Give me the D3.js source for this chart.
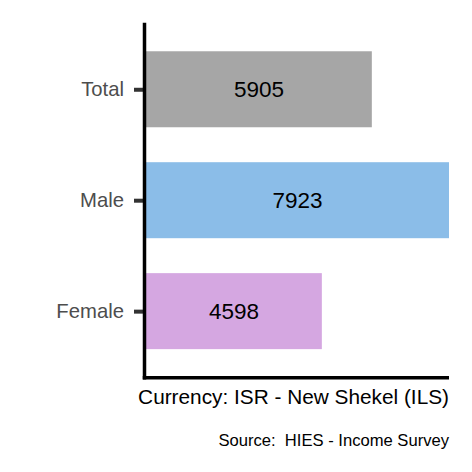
<!DOCTYPE html>
<html>
<head>
<meta charset="utf-8">
<script src="https://cdn.jsdelivr.net/npm/d3@7"></script>
<style>
  html, body { margin: 0; padding: 0; background: #fff; }
  svg { display: block; font-family: "Liberation Sans", Arial, sans-serif; }
</style>
</head>
<body>
<div id="chart"></div>
<script>
const width = 472
const height = 472

// data
const categories = ["Total", "Male", "Female"]
const values = [5905, 7923, 4598]
const barColors = ["#a6a6a6", "#8bbde8", "#d5a7e1"]
const xTitle = "Currency: ISR - New Shekel (ILS)"
const caption = "Source:  HIES - Income Survey"

const panel = { left: 146, right: 449, top: 22.7, bottom: 377.7 }

const x = d3
  .scaleLinear()
  .domain([0, d3.max(values)])
  .range([panel.left, panel.right])

const y = d3
  .scalePoint()
  .domain(categories)
  .range([panel.top, panel.bottom])
  .padding(0.6)

const barHeight = y.step() * 0.685

const rows = categories.map((c, i) => ({ cat: c, value: values[i], color: barColors[i] }))

const svg = d3
  .select("#chart")
  .append("svg")
  .attr("width", width)
  .attr("height", height)

svg.append("rect").attr("width", width).attr("height", height).attr("fill", "#fff")

// bars
svg
  .append("g")
  .selectAll("rect")
  .data(rows)
  .join("rect")
  .attr("x", x(0))
  .attr("y", (d) => y(d.cat) - barHeight / 2)
  .attr("width", (d) => x(d.value) - x(0))
  .attr("height", barHeight)
  .attr("fill", (d) => d.color)

// value labels
svg
  .append("g")
  .selectAll("text")
  .data(rows)
  .join("text")
  .attr("x", (d) => (x(0) + x(d.value)) / 2)
  .attr("y", (d) => y(d.cat))
  .attr("dy", "0.36em")
  .attr("text-anchor", "middle")
  .attr("font-size", 22.5)
  .attr("fill", "#000")
  .text((d) => d.value)

// y axis
const yAxis = svg
  .append("g")
  .attr("transform", `translate(${panel.left - 1.5},0)`)
  .call(d3.axisLeft(y).tickSize(10.5).tickPadding(10))
yAxis.select(".domain").remove()
yAxis.selectAll(".tick line").attr("stroke", "#333").attr("stroke-width", 4)
yAxis
  .selectAll(".tick text")
  .attr("font-size", 20.3)
  .attr("fill", "#4d4d4d")
  .attr("font-family", "Liberation Sans, Arial, sans-serif")

// axis lines
svg
  .append("line")
  .attr("x1", panel.left - 1.5)
  .attr("x2", panel.left - 1.5)
  .attr("y1", panel.top)
  .attr("y2", panel.bottom + 1.75)
  .attr("stroke", "#000")
  .attr("stroke-width", 3.5)
svg
  .append("line")
  .attr("x1", panel.left - 3.25)
  .attr("x2", panel.right)
  .attr("y1", panel.bottom)
  .attr("y2", panel.bottom)
  .attr("stroke", "#000")
  .attr("stroke-width", 3.5)

// x title
svg
  .append("text")
  .attr("x", panel.right)
  .attr("y", 404)
  .attr("text-anchor", "end")
  .attr("font-size", 20.8)
  .attr("fill", "#000")
  .text(xTitle)

// caption
svg
  .append("text")
  .attr("x", panel.right)
  .attr("y", 445.5)
  .attr("text-anchor", "end")
  .attr("font-size", 16.6)
  .attr("fill", "#000")
  .style("white-space", "pre")
  .text(caption)
</script>
</body>
</html>
